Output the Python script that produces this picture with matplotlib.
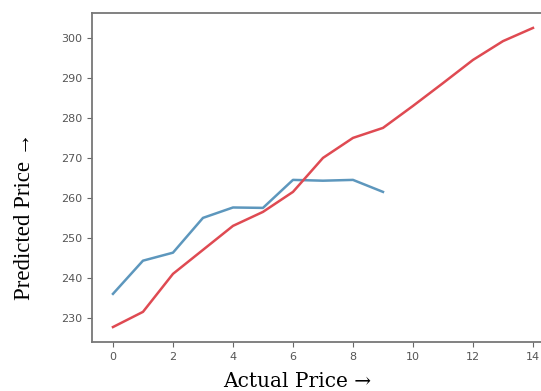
import matplotlib.pyplot as plt

# Data
x_actual = list(range(15))
y_red = [227.7, 231.5, 241.0, 247.0, 253.0, 256.5, 261.5, 270.0, 275.0, 277.5,
         283.0, 288.7, 294.5, 299.2, 302.5]
x_pred = list(range(10))
y_blue = [236.0, 244.3, 246.3, 255.0, 257.6, 257.5, 264.5, 264.3, 264.5, 261.5]

fig = plt.figure(figsize=(5.41, 3.91), dpi=100)
ax = fig.add_axes([0.170, 0.1253, 0.854, 0.8415])

ax.plot(x_pred, y_blue, color='#5d97bd', linewidth=1.8)
ax.plot(x_actual, y_red, color='#df4a52', linewidth=1.8)

ax.set_xticks(range(0, 15, 2))
ax.set_yticks(range(230, 301, 10))
ax.tick_params(labelsize=8, labelcolor='#555555', color='#666666', length=3.5)
for s in ax.spines.values():
    s.set_color('#777777')
    s.set_linewidth(1.3)

fig.text(0.550, 0.010, 'Actual Price \u2192', fontsize=14.5, family='DejaVu Serif',
         ha='center', va='baseline')
fig.text(0.046, 0.447, 'Predicted Price \u2192', fontsize=16.5, family='Liberation Serif',
         rotation=90, ha='center', va='center')

fig.savefig('out.png', dpi=100)
